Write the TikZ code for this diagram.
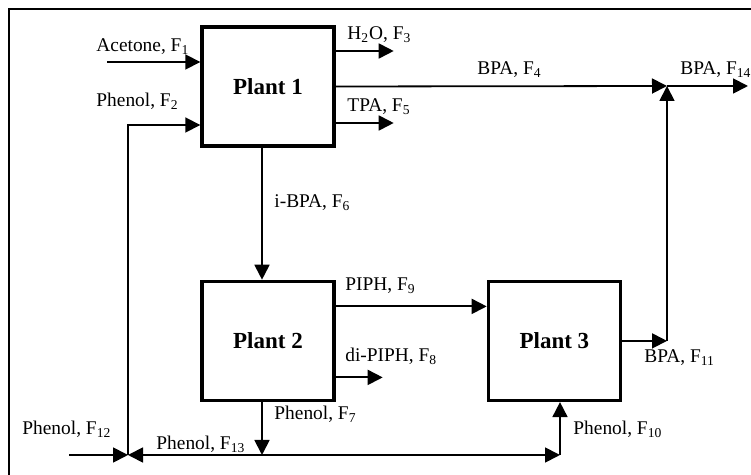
\documentclass[tikz,border=0pt]{standalone}
\usepackage{fontspec}
\setmainfont{Liberation Serif}
\usepackage{tikz}
\usetikzlibrary{arrows.meta, positioning}

\begin{document}
\begin{tikzpicture}[
    x=0.5pt, y=-0.5pt,
    node distance=66pt and 75.5pt,
    every node/.style={font=\fontsize{9.7}{11}\selectfont},
    plant/.style={draw, line width=1.7pt, minimum width=66pt, minimum height=59.5pt,
      inner sep=0pt, font=\fontsize{11.5}{13}\selectfont\bfseries},
    lbl/.style={anchor=base west, inner sep=0pt},
    arr/.style={-{Triangle[length=7.5pt, width=7.5pt]}, line width=0.9pt}
  ]
  \useasboundingbox (0,0) rectangle (751,475);
  \begin{scope}
    \clip (0,0) rectangle (751,475);
    \draw[line width=0.8pt] (9,490) -- (9,9) -- (770,9);
  \end{scope}

  \node[plant] (p1) at (268,86.5) {Plant 1};
  \node[plant, below=of p1] (p2) {Plant 2};
  \node[plant, right=of p2] (p3) {Plant 3};

  % junctions and free ends
  \coordinate (f1in) at (107,62);
  \coordinate (f2in) at ([yshift=-19.25pt]p1.west);
  \coordinate (mrg)  at (667,86);
  \coordinate (f14out) at (748,86);
  \coordinate (jct)  at (262,455);
  \coordinate (mix)  at (128,455);
  \coordinate (f12in) at (69,455);
  \coordinate (f10c) at (560,455);

  % plant 1
  \draw[arr] (f1in) -- (f1in -| p1.west);
  \draw[arr] (mix) |- (f2in);
  \draw[arr] ([yshift=17.75pt]p1.east) -- +(29pt,0);
  \draw[arr] (p1.east) -- (mrg);
  \draw[arr] ([yshift=-18.25pt]p1.east) -- +(29pt,0);
  \draw[arr] (p1.south -| jct) -- (p2.north -| jct);

  % plant 2
  \draw[arr] ([yshift=17.25pt]p2.east) -- ([yshift=17.25pt]p2.east -| p3.west);
  \draw[arr] ([yshift=-18.25pt]p2.east) -- +(23.5pt,0);
  \draw[arr] (p2.south -| jct) -- (jct);

  % phenol recycle
  \draw[arr] (f12in) -- (mix);
  \draw[arr] (jct) -- (mix);
  \draw[arr] (jct) -- (f10c);
  \draw[arr] (f10c) -- (f10c |- p3.south);

  % plant 3
  \draw[arr] (p3.east) -- (p3.east -| mrg);
  \draw[arr] (p3.east -| mrg) -- (mrg);
  \draw[arr] (mrg) -- (f14out);

  % stream labels
  \node[lbl] (l1)  at (96,52)   {Acetone, F\textsubscript{1}};
  \node[lbl] (l2)  at (96,107)  {Phenol, F\textsubscript{2}};
  \node[lbl] (l3)  at (347,40)  {H\textsubscript{2}O, F\textsubscript{3}};
  \node[lbl] (l4)  at (477,75)  {BPA, F\textsubscript{4}};
  \node[lbl] (l5)  at (347,112) {TPA, F\textsubscript{5}};
  \node[lbl] (l6)  at (274,208) {i-BPA, F\textsubscript{6}};
  \node[lbl] (l7)  at (274,420) {Phenol, F\textsubscript{7}};
  \node[lbl] (l8)  at (345,362) {di-PIPH, F\textsubscript{8}};
  \node[lbl] (l9)  at (345,291) {PIPH, F\textsubscript{9}};
  \node[lbl] (l10) at (573,435) {Phenol, F\textsubscript{10}};
  \node[lbl] (l11) at (644,363) {BPA, F\textsubscript{11}};
  \node[lbl] (l12) at (22,435)  {Phenol, F\textsubscript{12}};
  \node[lbl] (l13) at (156,450) {Phenol, F\textsubscript{13}};
  \node[lbl] (l14) at (680,75)  {BPA, F\textsubscript{14}};
\end{tikzpicture}
\end{document}
